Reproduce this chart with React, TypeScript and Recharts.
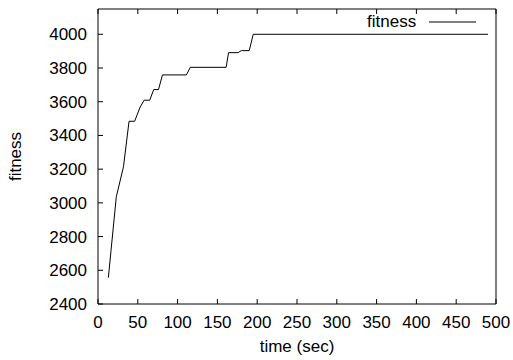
import React from "react";
import {
  LineChart,
  Line,
  XAxis,
  YAxis,
  Legend,
} from "recharts";

// time (sec) of each sample
const times = [13, 23, 32, 39, 46, 53, 58, 65, 70, 76, 81, 111, 116, 161, 164, 176, 180, 190, 195, 490];
// best fitness at that time
const fitness = [2556, 3036, 3214, 3484, 3484, 3569, 3609, 3609, 3672, 3672, 3759, 3759, 3804, 3804, 3891, 3891, 3903, 3903, 4000, 4000];

const xTicks = [0, 50, 100, 150, 200, 250, 300, 350, 400, 450, 500];
const yTicks = [2400, 2600, 2800, 3000, 3200, 3400, 3600, 3800, 4000];

const data = times.map((t, i) => ({ time: t, fitness: fitness[i] }));

const FONT = "'Liberation Sans', Arial, Helvetica, sans-serif";
const noLabel = () => <g />;

const LegendBox = () => (
  <div style={{ display: "flex", alignItems: "center", height: 19, fontSize: 17, color: "#000" }}>
    <span>fitness</span>
    <svg width={47} height={19} style={{ marginLeft: 13 }}>
      <line x1={0} x2={47} y1={10} y2={10} stroke="#000" strokeWidth={1} />
    </svg>
  </div>
);

export default function App() {
  return (
    <div style={{ position: "absolute", left: 0, top: 0, fontFamily: FONT }}>
      <LineChart
        width={513}
        height={360}
        data={data}
        margin={{ top: 0, right: 0, bottom: 0, left: 0 }}
        style={{ fontFamily: FONT, background: "#fff" }}
      >
        <XAxis
          xAxisId="bottom"
          dataKey="time"
          type="number"
          domain={[0, 500]}
          ticks={xTicks}
          height={56}
          stroke="#000"
          tickSize={-5}
          tickMargin={17}
          tick={{ fill: "#000", fontSize: 17 }}
          label={{
            content: ({ viewBox }: any) => (
              <text
                x={viewBox.x + viewBox.width / 2}
                y={352}
                textAnchor="middle"
                fontSize={17}
                fill="#000"
              >
                time (sec)
              </text>
            ),
          }}
        />
        <XAxis
          xAxisId="top"
          orientation="top"
          dataKey="time"
          type="number"
          domain={[0, 500]}
          ticks={xTicks}
          height={9}
          stroke="#000"
          tickSize={-5}
          tick={noLabel}
        />
        <YAxis
          yAxisId="left"
          type="number"
          domain={[2400, 4150]}
          ticks={yTicks}
          width={98}
          stroke="#000"
          tickSize={-5}
          tickMargin={16}
          tick={{ fill: "#000", fontSize: 17 }}
          label={{
            content: ({ viewBox }: any) => (
              <text
                x={21}
                y={viewBox.y + viewBox.height / 2}
                textAnchor="middle"
                fontSize={17}
                fill="#000"
                transform={`rotate(-90 21 ${viewBox.y + viewBox.height / 2})`}
              >
                fitness
              </text>
            ),
          }}
        />
        <YAxis
          yAxisId="right"
          orientation="right"
          type="number"
          domain={[2400, 4150]}
          ticks={yTicks}
          width={17}
          stroke="#000"
          tickSize={-5}
          tick={noLabel}
        />
        <Legend
          content={<LegendBox />}
          layout="horizontal"
          verticalAlign="middle"
          align="center"
          wrapperStyle={{ position: "absolute", left: 367, top: 12, width: "auto" }}
        />
        <Line
          xAxisId="bottom"
          yAxisId="left"
          type="linear"
          dataKey="fitness"
          stroke="#000"
          strokeWidth={1}
          dot={false}
          isAnimationActive={false}
        />
      </LineChart>
    </div>
  );
}
